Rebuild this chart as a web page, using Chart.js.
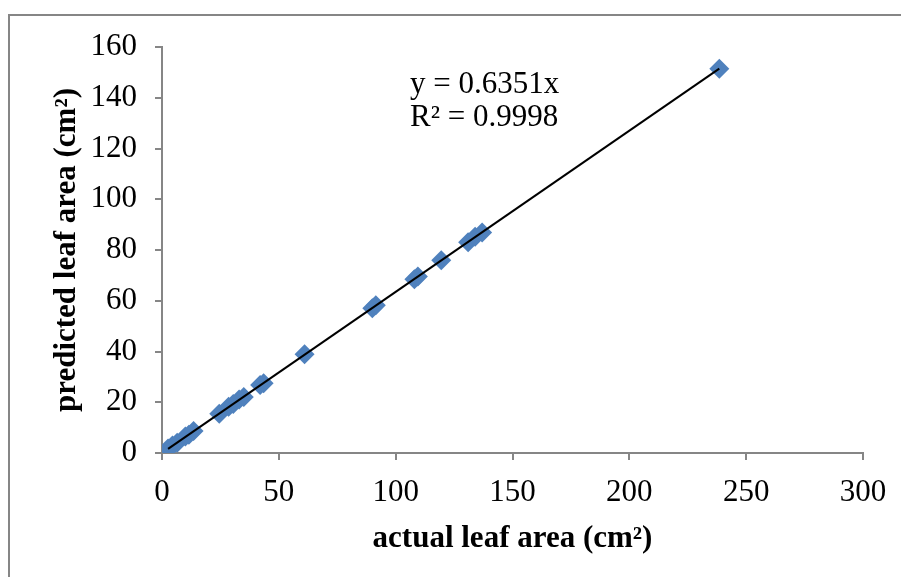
<!DOCTYPE html>
<html>
<head>
<meta charset="utf-8">
<script src="https://cdn.jsdelivr.net/npm/chart.js@4.4.0/dist/chart.umd.min.js"></script>
<style>
    html, body { margin: 0; padding: 0; background: #ffffff; }
    #wrap { width: 901px; height: 577px; }
</style>
</head>
<body>
<div id="wrap"><canvas id="leafChart" width="901" height="577"></canvas></div>
<script>
// actual vs predicted leaf area (cm²)
const actualArea = [2.6, 4.5, 6.5, 10, 11.5, 13.5, 24.5, 28.5, 30.5, 33, 35, 42, 43.5, 61, 90, 91.5, 108, 109.5, 119.5, 131, 134, 137, 238.5];
const predictedArea = [1.8, 3.0, 4.0, 6.5, 7.2, 8.7, 15.5, 18.2, 19.3, 21.1, 22.1, 26.8, 27.5, 38.9, 57.0, 58.2, 68.5, 69.6, 76.0, 83.1, 85.2, 86.9, 151.4];
const xTicks = [0, 50, 100, 150, 200, 250, 300];
const yTicks = [0, 20, 40, 60, 80, 100, 120, 140, 160];
const slope = 0.6351;
const rSquared = 0.9998;
const trendX = [2.6, 238.5];

const gray = '#868686';
const serif = '"Liberation Serif", "Times New Roman", serif';

const framePlugin = {
    id: 'frame',
    beforeDraw(chart) {
        const ctx = chart.ctx;
        ctx.save();
        ctx.strokeStyle = gray;
        ctx.lineWidth = 2;
        ctx.beginPath();
        ctx.moveTo(9, 577);
        ctx.lineTo(9, 15);
        ctx.lineTo(901, 15);
        ctx.stroke();
        ctx.restore();
    }
};

const equationPlugin = {
    id: 'equation',
    afterDraw(chart) {
        const ctx = chart.ctx;
        ctx.save();
        ctx.fillStyle = '#000000';
        ctx.font = '31px ' + serif;
        ctx.textBaseline = 'middle';
        ctx.fillText('y = ' + slope + 'x', 410, 85);
        ctx.fillText('R² = ' + rSquared, 410, 118);
        ctx.restore();
    }
};

const points = actualArea.map((x, i) => ({ x: x, y: predictedArea[i] }));
const trend = trendX.map(x => ({ x: x, y: slope * x }));

new Chart(document.getElementById('leafChart').getContext('2d'), {
    type: 'scatter',
    data: {
        datasets: [{
            label: 'trend',
            type: 'line',
            data: trend,
            borderColor: '#000000',
            borderWidth: 2,
            pointRadius: 0,
            fill: false,
            order: 0
        }, {
            label: 'leaf area',
            data: points,
            pointStyle: 'rectRot',
            pointRadius: 10,
            pointHoverRadius: 10,
            backgroundColor: '#4F81BD',
            borderColor: '#4F81BD',
            borderWidth: 0,
            order: 1
        }]
    },
    options: {
        responsive: false,
        animation: false,
        layout: { padding: { top: 47, right: 38, left: 0, bottom: 0 } },
        plugins: {
            legend: { display: false },
            tooltip: { enabled: false }
        },
        scales: {
            x: {
                type: 'linear',
                min: 0,
                max: 300,
                afterBuildTicks: scale => { scale.ticks = xTicks.map(v => ({ value: v })); },
                afterFit: scale => { scale.height = 124; },
                border: { display: true, color: gray, width: 2 },
                grid: { drawOnChartArea: false, drawTicks: true, tickLength: 7, color: gray, lineWidth: 2 },
                ticks: { color: '#000000', font: { family: serif, size: 31 }, padding: 14, maxRotation: 0 },
                title: {
                    display: true,
                    text: 'actual leaf area (cm²)',
                    color: '#000000',
                    font: { family: serif, size: 31, weight: 'bold' },
                    padding: { top: 4, bottom: 19 }
                }
            },
            y: {
                type: 'linear',
                min: 0,
                max: 160,
                afterBuildTicks: scale => { scale.ticks = yTicks.map(v => ({ value: v })); },
                afterFit: scale => { scale.width = 162; },
                border: { display: true, color: gray, width: 2 },
                grid: { drawOnChartArea: false, drawTicks: true, tickLength: 7, color: gray, lineWidth: 2 },
                ticks: { color: '#000000', font: { family: serif, size: 31 }, padding: 18 },
                title: {
                    display: true,
                    text: 'predicted leaf area (cm²)',
                    color: '#000000',
                    font: { family: serif, size: 31, weight: 'bold' },
                    padding: { top: 48, bottom: 0 }
                }
            }
        }
    },
    plugins: [framePlugin, equationPlugin]
});
</script>
</body>
</html>
